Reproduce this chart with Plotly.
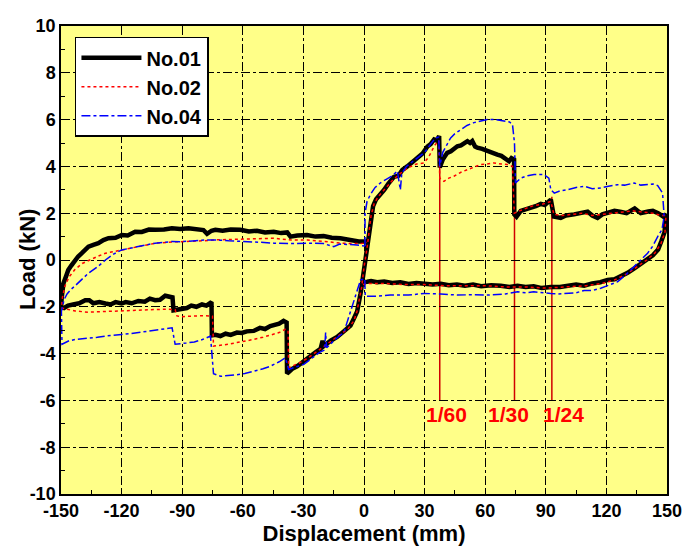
import plotly.graph_objects as go

# ---------------- data ----------------
no01_x = [-0.85, 0, 1.0, 1.6, 2.2, 3.0, 4.5, 6.0, 8.2, 10, 12, 14.8, 17, 19, 21.4, 23.5, 25, 27.2, 29, 31.4, 33, 34.7, 36, 37.2,
          37.5, 39, 41.2, 43, 46.2, 48, 51.2, 52.5, 53.6, 55, 56.1, 58.5, 61, 63.5, 66, 68, 69.3, 71.8, 73, 74.3,
          74.4, 75.5, 77.6, 80, 82.5, 85, 87.5, 89.5, 92.5,
          93, 94, 97.4, 100, 104, 107, 110.7, 113, 115.6, 118, 120.6, 124, 127.4, 130, 134, 137, 140.7, 143, 145.6, 148.1, 149.5,
          149.3, 148.8, 147.2, 145.6, 143, 140, 137, 134, 130.5, 127, 124, 120.6, 117, 113, 109, 105, 101, 97, 92.5, 88, 84, 80,
          76, 72, 67.7, 63, 58, 54, 50, 46, 42, 38, 34, 30, 26, 22, 18, 14, 10, 6.5, 3.5, 1.6, -0.85,
          -1.7, -3.4, -5, -6.7, -10, -13.3, -16.5, -19.9, -20.5, -21.5, -24, -26.5, -29, -31.5, -33.1, -35.5, -38.1,
          -38.3, -39.8, -42, -44, -46.4, -49, -51.5, -54.6, -58, -60.5, -62.9, -66, -68.5, -71.1, -73.5, -75.3,
          -75.5, -78, -80.2, -83, -85.5, -87.7, -90, -92.6, -94.3,
          -94.8, -96.5, -98.4, -101, -103.4, -106, -108.5, -111.7, -115, -118, -120, -123, -125.5, -128, -131, -134, -136,
          -138, -141, -144, -146.5, -148.5, -150,
          -149.6, -148.8, -147.5, -146.4, -145, -143, -141.5, -139.7, -138, -136.4, -134, -131.5, -129, -126.5, -123, -119.9,
          -117, -113.3, -110, -106.5, -103.4, -99, -95.1, -91, -86.9, -83, -79.5, -77.7, -75.5, -73.6, -70, -66, -61.2, -57,
          -53, -49, -44.7, -41, -38, -36.4, -33, -28.2, -24, -20, -16, -11.7, -7.5, -2.6, 2.2]
no01_y = [-0.93, -0.4, 0.05, 0.4, 0.8, 1.5, 2.3, 2.6, 2.8, 3.0, 3.25, 3.55, 3.6, 3.85, 4.0, 4.15, 4.3, 4.45, 4.55, 4.85, 4.95, 5.15, 5.1, 5.3,
          3.95, 4.3, 4.58, 4.65, 4.86, 4.9, 5.08, 5.0, 5.08, 4.85, 4.8, 4.75, 4.65, 4.6, 4.5, 4.45, 4.36, 4.22, 4.35, 4.29,
          1.95, 1.85, 2.1, 2.15, 2.22, 2.3, 2.4, 2.35, 2.58,
          2.2, 1.86, 1.8, 1.9, 1.95, 2.0, 2.07, 1.9, 1.8, 1.95, 2.0, 2.1, 2.05, 2.0, 2.2, 2.0, 2.07, 2.1, 2.0, 1.86, 1.95,
          1.5, 1.2, 0.8, 0.45, 0.2, 0.0, -0.2, -0.35, -0.55, -0.7, -0.82, -0.85, -0.95, -1.0, -1.1, -1.05, -1.12, -1.15, -1.15, -1.2, -1.12, -1.15,
          -1.1, -1.15, -1.1, -1.08, -1.12, -1.05, -1.1, -1.05, -1.08, -1.02, -1.05, -1.0, -0.98, -1.02, -0.95, -0.98, -0.92, -0.95, -0.9, -0.93, -0.95,
          -1.43, -2.2, -2.5, -2.8, -3.05, -3.29, -3.45, -3.68, -3.45, -3.8, -3.95, -4.11, -4.3, -4.45, -4.54, -4.65, -4.85,
          -2.67, -2.6, -2.72, -2.75, -2.82, -2.95, -2.9, -3.03, -3.05, -3.12, -3.1, -3.2, -3.15, -3.25, -3.2, -3.22,
          -1.8, -1.95, -1.9, -2.0, -1.95, -2.05, -2.1, -2.12, -2.15,
          -1.6, -1.55, -1.53, -1.7, -1.72, -1.65, -1.78, -1.75, -1.85, -1.8, -1.86, -1.8, -1.9, -1.86, -1.8, -1.85, -1.72,
          -1.72, -1.85, -1.9, -1.95, -2.05, -2.0,
          -1.57, -1.0, -0.7, -0.43, -0.25, 0.0, 0.15, 0.29, 0.42, 0.57, 0.65, 0.72, 0.85, 0.93, 0.95, 1.07,
          1.05, 1.21, 1.2, 1.3, 1.29, 1.3, 1.36, 1.33, 1.36, 1.3, 1.28, 1.12, 1.25, 1.29, 1.25, 1.3, 1.29, 1.22,
          1.25, 1.18, 1.21, 1.15, 1.18, 1.0, 1.05, 1.07, 1.0, 1.02, 0.95, 0.93, 0.85, 0.79, 0.8]

no02_x = [-0.9, 0, 1.5, 2.5, 3.5, 5, 7, 10, 14, 18, 22, 26, 29.7, 32, 35, 37,
          37.5, 39.6, 42, 44.5, 48, 51.2, 54, 57.8, 61, 64.4, 68, 71, 73.5,
          74.4, 77, 80, 83, 86, 89, 92.5, 94, 98, 103, 108, 113, 118, 123, 128, 133, 138, 143, 147, 149.5,
          149, 147, 144, 140, 135, 130, 124, 118, 110, 100, 90, 80, 70, 60, 50, 40, 30, 20, 10, 3, -0.9,
          -1.8, -3.5, -5, -8, -12, -16, -20, -24, -28, -32, -35, -37.3,
          -37.6, -38.9, -42, -46.4, -50, -55, -60, -62.9, -67, -71, -74.5,
          -75, -80, -85, -90, -92.6, -93.5, -98, -105, -112, -120, -128, -136.6, -143, -148, -149.8,
          -149.3, -148, -146, -143, -139.5, -136, -132, -128, -124, -120, -112, -103, -95, -87, -80, -73.6, -65, -55,
          -44.7, -36, -28, -20, -11.7, -5, -1.5, 1.5]
no02_y = [-1.0, -0.3, 0.5, 1.2, 1.9, 2.4, 2.7, 3.0, 3.4, 3.7, 3.95, 4.1, 4.15, 4.4, 4.9, 5.1,
          3.5, 3.36, 3.5, 3.58, 3.75, 3.86, 3.95, 4.08, 4.1, 4.15, 4.1, 4.08, 4.0,
          2.0, 2.1, 2.2, 2.3, 2.35, 2.4, 2.5, 1.95, 1.9, 1.95, 2.0, 1.9, 1.95, 2.0, 2.05, 2.1, 2.05, 2.0, 1.9, 1.9,
          1.2, 0.7, 0.3, 0.0, -0.3, -0.6, -0.85, -1.0, -1.1, -1.15, -1.2, -1.15, -1.15, -1.1, -1.1, -1.1, -1.05, -1.05, -1.0, -1.0, -1.05,
          -1.5, -2.2, -2.6, -2.95, -3.2, -3.45, -3.7, -3.95, -4.2, -4.4, -4.5, -4.6,
          -3.0, -2.96, -3.1, -3.22, -3.3, -3.4, -3.5, -3.53, -3.6, -3.65, -3.68,
          -2.4, -2.38, -2.4, -2.42, -2.39, -2.12, -2.1, -2.12, -2.15, -2.17, -2.2, -2.23, -2.18, -2.1, -2.05,
          -1.6, -1.1, -0.72, -0.4, -0.15, 0.0, 0.15, 0.29, 0.36, 0.43, 0.57, 0.72, 0.77, 0.79, 0.82, 0.86, 0.88, 0.9,
          0.93, 0.85, 0.85, 0.8, 0.72, 0.7, 0.7, 0.75]

no04_x = [0.5, 0.5, 1.5, 3.2, 5.5, 8.2, 11, 14, 16.5, 18, 18.7, 21, 24, 27, 30, 33, 35.4, 37,
          37.5, 39, 42.9, 45, 47.8, 51, 54.4, 58, 61, 65, 69.3, 72, 73.5, 74.5,
          75, 77.6, 81, 84.2, 89, 91.5, 92.5, 94.2, 97, 100.8, 105, 109, 113, 117.2, 121, 125.5, 129, 133.8, 137,
          140.4, 143, 145.4, 147.8, 148.6,
          147.5, 145.4, 143, 140.4, 137, 133.8, 130, 125.5, 121, 117.2, 113, 109, 105, 100.8, 96, 92.5, 88, 84, 80,
          76, 70, 62, 55, 46.2, 38, 29.7, 22, 13, 6, 1.6, 0.6, 0.4,
          -1.7, -4.2, -6.7, -8.5, -10, -13, -16, -18.5, -19, -19.5, -22, -25, -29.8, -33, -36, -37.3,
          -38.9, -42, -46.4, -50, -54.6, -59, -62.9, -67, -71, -74.5,
          -76, -80, -84, -88, -91, -93.5,
          -95, -99, -103.4, -108, -111.7, -116, -120, -124, -128, -132, -136.6, -140, -143, -146, -148, -149.5,
          -149.8, -148.5, -147, -145, -143, -140, -136.5, -132, -128, -124, -120, -116, -111.7, -107, -103.4, -99,
          -95, -91, -87, -82, -77.7, -73.6, -67, -60, -52, -44.7, -36, -28, -20, -15, -12, -5, -1.5, 0.5]
no04_y = [0.6, 2.0, 2.5, 2.8, 3.1, 3.3, 3.45, 3.6, 3.8, 3.0, 3.7, 4.0, 4.2, 4.4, 4.6, 4.95, 5.22, 5.25,
          4.0, 4.6, 5.22, 5.4, 5.58, 5.75, 5.87, 5.95, 6.0, 6.0, 5.95, 5.9, 5.8, 5.0,
          3.29, 3.5, 3.6, 3.65, 3.65, 3.5, 3.0, 2.86, 2.95, 3.0, 3.1, 3.15, 3.05, 3.08, 3.15, 3.22, 3.2, 3.29, 3.2,
          3.22, 3.25, 3.18, 2.86, 1.86,
          1.3, 1.0, 0.6, 0.29, 0.0, -0.29, -0.6, -0.93, -1.1, -1.21, -1.3, -1.3, -1.4, -1.43, -1.45, -1.43, -1.4, -1.36, -1.4,
          -1.36, -1.45, -1.5, -1.48, -1.5, -1.45, -1.43, -1.5, -1.5, -1.55, -1.57, -1.55, -0.8,
          -0.85, -1.53, -2.25, -2.7, -3.1, -3.3, -3.55, -3.75, -3.1, -3.85, -3.95, -4.15, -4.46, -4.55, -4.62, -4.68,
          -4.18, -4.35, -4.54, -4.65, -4.75, -4.85, -4.9, -4.95, -4.97, -4.86,
          -3.25, -3.4, -3.5, -3.55, -3.57, -3.6,
          -2.9, -2.95, -3.0, -3.05, -3.1, -3.15, -3.18, -3.2, -3.25, -3.3, -3.33, -3.35, -3.4, -3.45, -3.53, -3.6,
          -2.2, -1.7, -1.45, -1.25, -1.1, -0.85, -0.57, -0.3, 0.0, 0.25, 0.43, 0.5, 0.57, 0.65, 0.72, 0.75,
          0.79, 0.78, 0.79, 0.83, 0.86, 0.86, 0.82, 0.8, 0.76, 0.72, 0.7, 0.72, 0.7, 0.57, 0.68, 0.65, 0.62, 0.6]

drift_labels = ["1/60", "1/30", "1/24"]
drift_x = [37.5, 74.5, 93.0]
drift_top = [5.3, 4.3, 2.7]
drift_bottom = -6.0
drift_label_x = [40.9, 71.6, 98.9]
drift_label_y = -6.6

x_ticks = [-150, -120, -90, -60, -30, 0, 30, 60, 90, 120, 150]
x_ticktext = ["-150", "-120", "-90", "-60", "-30", "0", "30", "60", "90", "120", "150"]
y_ticks = [-10, -8, -6, -4, -2, 0, 2, 4, 6, 8, 10]
y_ticktext = ["-10", "-8", "-6", "-4", "-2", "0", "2", "4", "6", "8", "10"]
x_title = "Displacement (mm)"
y_title = "Load (kN)"

# ---------------- figure ----------------
FONT = "Liberation Sans, Arial"
fig = go.Figure()
fig.add_trace(go.Scatter(x=no01_x, y=no01_y, mode="lines", name="No.01",
                         line=dict(color="black", width=4.5)))
fig.add_trace(go.Scatter(x=no02_x, y=no02_y, mode="lines", name="No.02",
                         line=dict(color="#FF0000", width=1.5, dash="dot")))
fig.add_trace(go.Scatter(x=no04_x, y=no04_y, mode="lines", name="No.04",
                         line=dict(color="#0000FF", width=1.5, dash="dashdot")))

for dx, top in zip(drift_x, drift_top):
    fig.add_shape(type="line", x0=dx, x1=dx, y0=drift_bottom, y1=top,
                  xref="x", yref="y", line=dict(color="#D00000", width=1.5), layer="below")
for lab, lx in zip(drift_labels, drift_label_x):
    fig.add_annotation(x=lx, y=drift_label_y, text=lab, showarrow=False,
                       font=dict(size=21, color="#FF0000", family=FONT, weight="bold"))

# y-axis title as rotated text placed like the reference
fig.add_annotation(xref="paper", yref="paper", x=-0.056, y=0.5, text=y_title,
                   textangle=-90, showarrow=False, xanchor="center", yanchor="middle",
                   font=dict(size=22, color="black", family=FONT, weight="bold"))

axis_common = dict(showline=True, linecolor="black", linewidth=1.5, mirror=True,
                   showgrid=True, gridcolor="black", griddash="dashdot", gridwidth=1,
                   zeroline=False, ticks="inside", ticklen=6, tickcolor="black",
                   automargin=False,
                   tickfont=dict(size=18, color="black", family=FONT, weight="bold"))

fig.update_xaxes(range=[-150, 150], tickvals=x_ticks, ticktext=x_ticktext,
                 minor=dict(ticks="inside", dtick=15, ticklen=4, tickcolor="black", showgrid=False),
                 title=dict(text=x_title, standoff=0,
                            font=dict(size=22, color="black", family=FONT, weight="bold")),
                 **axis_common)
fig.update_yaxes(range=[-10, 10], tickvals=y_ticks, ticktext=y_ticktext,
                 minor=dict(ticks="inside", dtick=1, ticklen=4, tickcolor="black", showgrid=False),
                 **axis_common)

fig.update_layout(
    width=695, height=551,
    margin=dict(l=61, r=28, t=26, b=57),
    paper_bgcolor="white", plot_bgcolor="#FFFF88",
    font=dict(family=FONT, color="black"),
    showlegend=True,
    legend=dict(x=0.023, y=0.977, xanchor="left", yanchor="top",
                bgcolor="white", bordercolor="black", borderwidth=1.5,
                font=dict(size=20, color="black", family=FONT, weight="bold"),
                itemwidth=60, tracegroupgap=0),
)

fig.write_html("out.html")
